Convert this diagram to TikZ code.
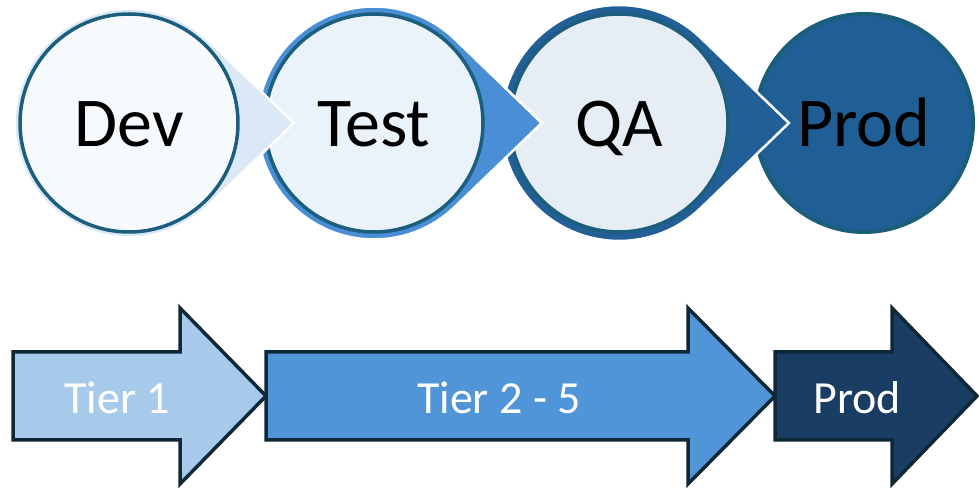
\documentclass[tikz,border=0pt]{standalone}
\usepackage{fontspec}
\setmainfont{Carlito}
\usetikzlibrary{calc}

\definecolor{stageline}{HTML}{1B5E7E}
\definecolor{devfill}{HTML}{F7FAFD}
\definecolor{devtail}{HTML}{DBE8F5}
\definecolor{testfill}{HTML}{EAF2FA}
\definecolor{testtail}{HTML}{4A8FD6}
\definecolor{qafill}{HTML}{E7EDF4}
\definecolor{qatail}{HTML}{225F97}
\definecolor{prodfill}{HTML}{205F96}
\definecolor{prodline}{HTML}{1A5E7A}
\definecolor{tierline}{HTML}{0F2838}
\definecolor{tierone}{HTML}{A7CAEB}
\definecolor{tiertwo}{HTML}{4F95D8}
\definecolor{tierprod}{HTML}{1A3D63}

\begin{document}
\begin{tikzpicture}[x=1pt,y=1pt,
  stage node/.style={circle,draw=stageline,line width=3.5pt,minimum size=218pt,inner sep=0pt,
    font=\fontsize{70}{70}\selectfont,text height=47pt,text depth=0pt},
  tail/.style={draw=white,line width=2.5pt},
  tier arrow/.style={draw=tierline,line width=3.5pt,line join=miter},
  tier text/.style={anchor=base,text=white,font=\fontsize{46}{46}\selectfont}]

  \useasboundingbox (0,0) rectangle (979,487);

  % stages, right to left so that each tail lies over the next circle
  \node[stage node,fill=prodfill,draw=prodline,line width=4pt] (prod) at (864,364) {Prod};
  \foreach \name/\x/\rad/\tailc/\fillc/\txt in {qa/619/118/qatail/qafill/QA,
      test/374/116.5/testtail/testfill/Test, dev/129/114.5/devtail/devfill/Dev}{
    \filldraw[tail,fill=\tailc] (\x,364) ++(46:\rad) arc[start angle=46,end angle=314,radius=\rad]
      -- ({\x+\rad/cos(46)},364) -- cycle;
    \node[stage node,fill=\fillc] (\name) at (\x,364) {\txt};
  }

  % tiers
  \draw[tier arrow,fill=tierone] (13,47) -- (180,47) -- (180,3) -- (266,91) -- (180,179) -- (180,135) -- (13,135) -- cycle;
  \node[tier text] (tier one) at (117,74) {Tier 1};
  \draw[tier arrow,fill=tiertwo] (266,47) -- (688,47) -- (688,3) -- (775,91) -- (688,179) -- (688,135) -- (266,135) -- cycle;
  \node[tier text] (tier two) at (499,74) {Tier 2 - 5};
  \draw[tier arrow,fill=tierprod] (775,47) -- (892,47) -- (892,3) -- (977,91) -- (892,179) -- (892,135) -- (775,135) -- cycle;
  \node[tier text] (tier prod) at (857,74) {Prod};

\end{tikzpicture}
\end{document}
